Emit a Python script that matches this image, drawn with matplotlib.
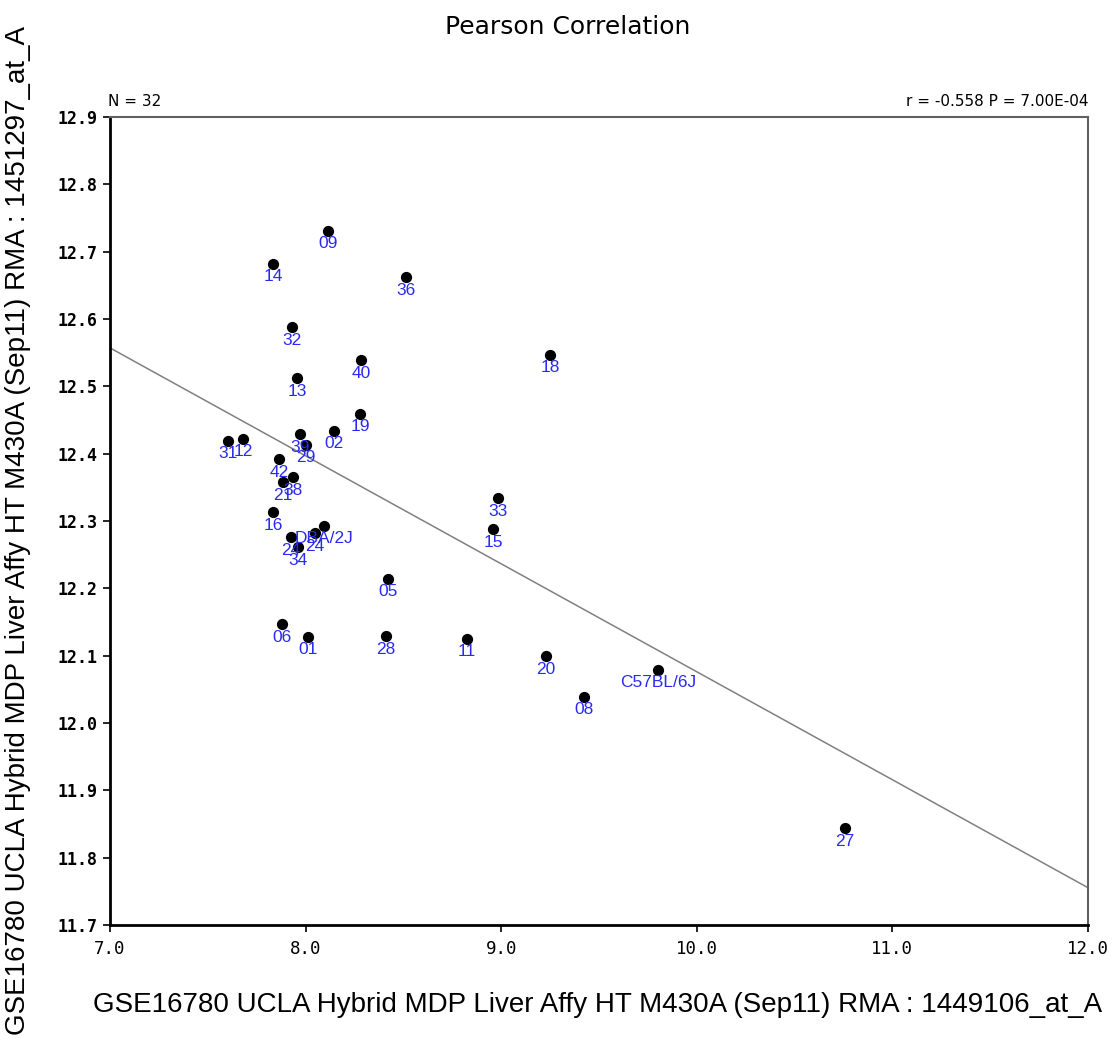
import numpy as np
import matplotlib.pyplot as plt

# strain labels and expression values
strains = ['09', '14', '36', '32', '40', '18', '13', '19', '02', '39', '29',
           '31', '12', '42', '38', '21', '16', '33', '15', 'DBA/2J', '24',
           '24', '34', '05', '06', '01', '28', '11', '20', 'C57BL/6J', '08', '27']
x_vals = [8.115, 7.833, 8.513, 7.930, 8.283, 9.250, 7.956, 8.278, 8.145, 7.971, 8.002,
          7.603, 7.680, 7.864, 7.936, 7.884, 7.833, 8.984, 8.958, 8.094, 8.048,
          7.925, 7.961, 8.421, 7.879, 8.012, 8.411, 8.825, 9.229, 9.802, 9.423, 10.758]
y_vals = [12.731, 12.682, 12.662, 12.588, 12.539, 12.547, 12.512, 12.459, 12.434, 12.429, 12.413,
          12.419, 12.422, 12.392, 12.365, 12.358, 12.313, 12.334, 12.288, 12.293, 12.282,
          12.276, 12.261, 12.214, 12.147, 12.128, 12.129, 12.125, 12.099, 12.079, 12.039, 11.844]

x_ticks = [7.0, 8.0, 9.0, 10.0, 11.0, 12.0]
y_ticks = [11.7, 11.8, 11.9, 12.0, 12.1, 12.2, 12.3, 12.4, 12.5, 12.6, 12.7, 12.8, 12.9]

x_label = 'GSE16780 UCLA Hybrid MDP Liver Affy HT M430A (Sep11) RMA : 1449106_at_A'
y_label = 'GSE16780 UCLA Hybrid MDP Liver Affy HT M430A (Sep11) RMA : 1451297_at_A'

x = np.array(x_vals)
y = np.array(y_vals)

fig = plt.figure(figsize=(11.2, 10.4), dpi=100)
ax = fig.add_axes([110 / 1120, 115 / 1040, 978 / 1120, 808 / 1040])

# regression line
slope, intercept = np.polyfit(x, y, 1)
xs = np.array([7.0, 12.0])
ax.plot(xs, slope * xs + intercept, color='#808080', lw=1.1, zorder=1)

ax.scatter(x, y, s=50, color='black', zorder=3)
for lab, xi, yi in zip(strains, x, y):
    ax.annotate(lab, (xi, yi), xytext=(0, -4), textcoords='offset points',
                ha='center', va='top', color='#2a2af5', fontsize=12.5,
                family='Liberation Sans', zorder=4)

ax.set_xlim(7.0, 12.0)
ax.set_ylim(11.7, 12.9)
ax.set_xticks(x_ticks)
ax.set_xticklabels([f'{t:.1f}' for t in x_ticks])
ax.set_yticks(y_ticks)
ax.set_yticklabels([f'{t:.1f}' for t in y_ticks])
for lbl in ax.get_yticklabels():
    lbl.set_family('DejaVu Sans Mono')
    lbl.set_fontweight('bold')
    lbl.set_fontsize(12)
for lbl in ax.get_xticklabels():
    lbl.set_family('DejaVu Sans Mono')
    lbl.set_fontsize(12.5)

ax.tick_params(direction='out', length=5, width=1.2, color='black', pad=4)
ax.tick_params(axis='x', pad=6)
ax.spines['left'].set_linewidth(2)
ax.spines['bottom'].set_linewidth(2)
ax.spines['top'].set_color('#606060')
ax.spines['right'].set_color('#606060')
ax.spines['top'].set_linewidth(1.5)
ax.spines['right'].set_linewidth(1.5)

fig.text(568 / 1120, 1 - 27 / 1040, 'Pearson Correlation', ha='center', va='center',
         fontsize=18, family='DejaVu Sans')
fig.text(108 / 1120, 1 - 101 / 1040, 'N = 32', ha='left', va='center', fontsize=11)
fig.text(1088 / 1120, 1 - 101 / 1040, 'r = -0.558 P = 7.00E-04', ha='right', va='center',
         fontsize=11)

fig.text(598 / 1120, 1 - 1005 / 1040, x_label, ha='center', va='center', fontsize=20,
         family='Liberation Sans')
fig.text(18 / 1120, 5 / 1040, y_label, ha='center', va='bottom', rotation=90, fontsize=20,
         family='Liberation Sans')

fig.savefig('out.png', dpi=100)
